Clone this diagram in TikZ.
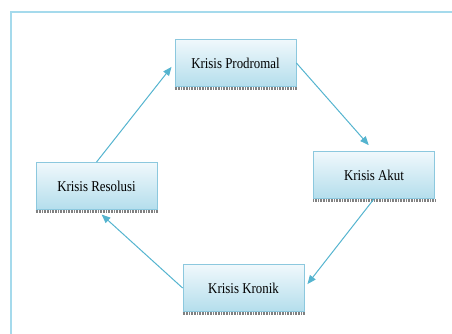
\documentclass[tikz,border=0pt]{standalone}
\usepackage{fontspec}
\setmainfont{Liberation Serif}
\usepackage{xcolor}
\usepackage{tikz}
\usetikzlibrary{arrows}

\definecolor{framecol}{RGB}{165,218,236}
\definecolor{arrowcol}{RGB}{85,180,207}
\definecolor{boxedge}{RGB}{140,200,222}
\definecolor{boxtop}{RGB}{240,248,252}
\definecolor{boxbot}{RGB}{180,222,236}

\tikzset{
 phase/.style={draw=boxedge, line width=0.8pt, top color=boxtop, bottom color=boxbot,
   minimum width=121pt, minimum height=47pt, inner sep=0pt,
   font=\fontsize{15}{17}\selectfont},
 flow/.style={draw=arrowcol, line width=1pt, -triangle 45},
 boxshadow/.style={draw=gray, line width=2.5pt, dash pattern=on 0.8pt off 0.8pt}
}
\newcommand{\phasetext}[1]{\scalebox{0.86}[1]{#1}}

\begin{document}
\begin{tikzpicture}[x=1pt, y=-1pt]
 \useasboundingbox (0,0) rectangle (452,334);
 \draw [framecol, line width=1.2pt] (11,334) -- (11,12) -- (452,12);

 \node [phase] (prodromal) at (235.5, 63) {\phasetext{Krisis Prodromal}};
 \node [phase] (akut)      at (374, 175)  {\phasetext{Krisis Akut}};
 \node [phase] (resolusi)  at (96.5, 186) {\phasetext{Krisis Resolusi}};
 \node [phase] (kronik)    at (243.5, 288) {\phasetext{Krisis Kronik}};

 \foreach \n in {prodromal, akut, resolusi, kronik}
  \draw [boxshadow] ([yshift=-1.8pt]\n.south west) -- ([yshift=-1.8pt]\n.south east);

 \draw [flow, shorten >=5pt] (resolusi.north) -- (prodromal.west);
 \draw [flow, shorten >=8pt] (prodromal.east) -- (akut.north);
 \draw [flow, shorten >=5pt] (akut.south) -- (kronik.east);
 \draw [flow, shorten >=7pt] (kronik.west) -- (resolusi.south);
\end{tikzpicture}
\end{document}
